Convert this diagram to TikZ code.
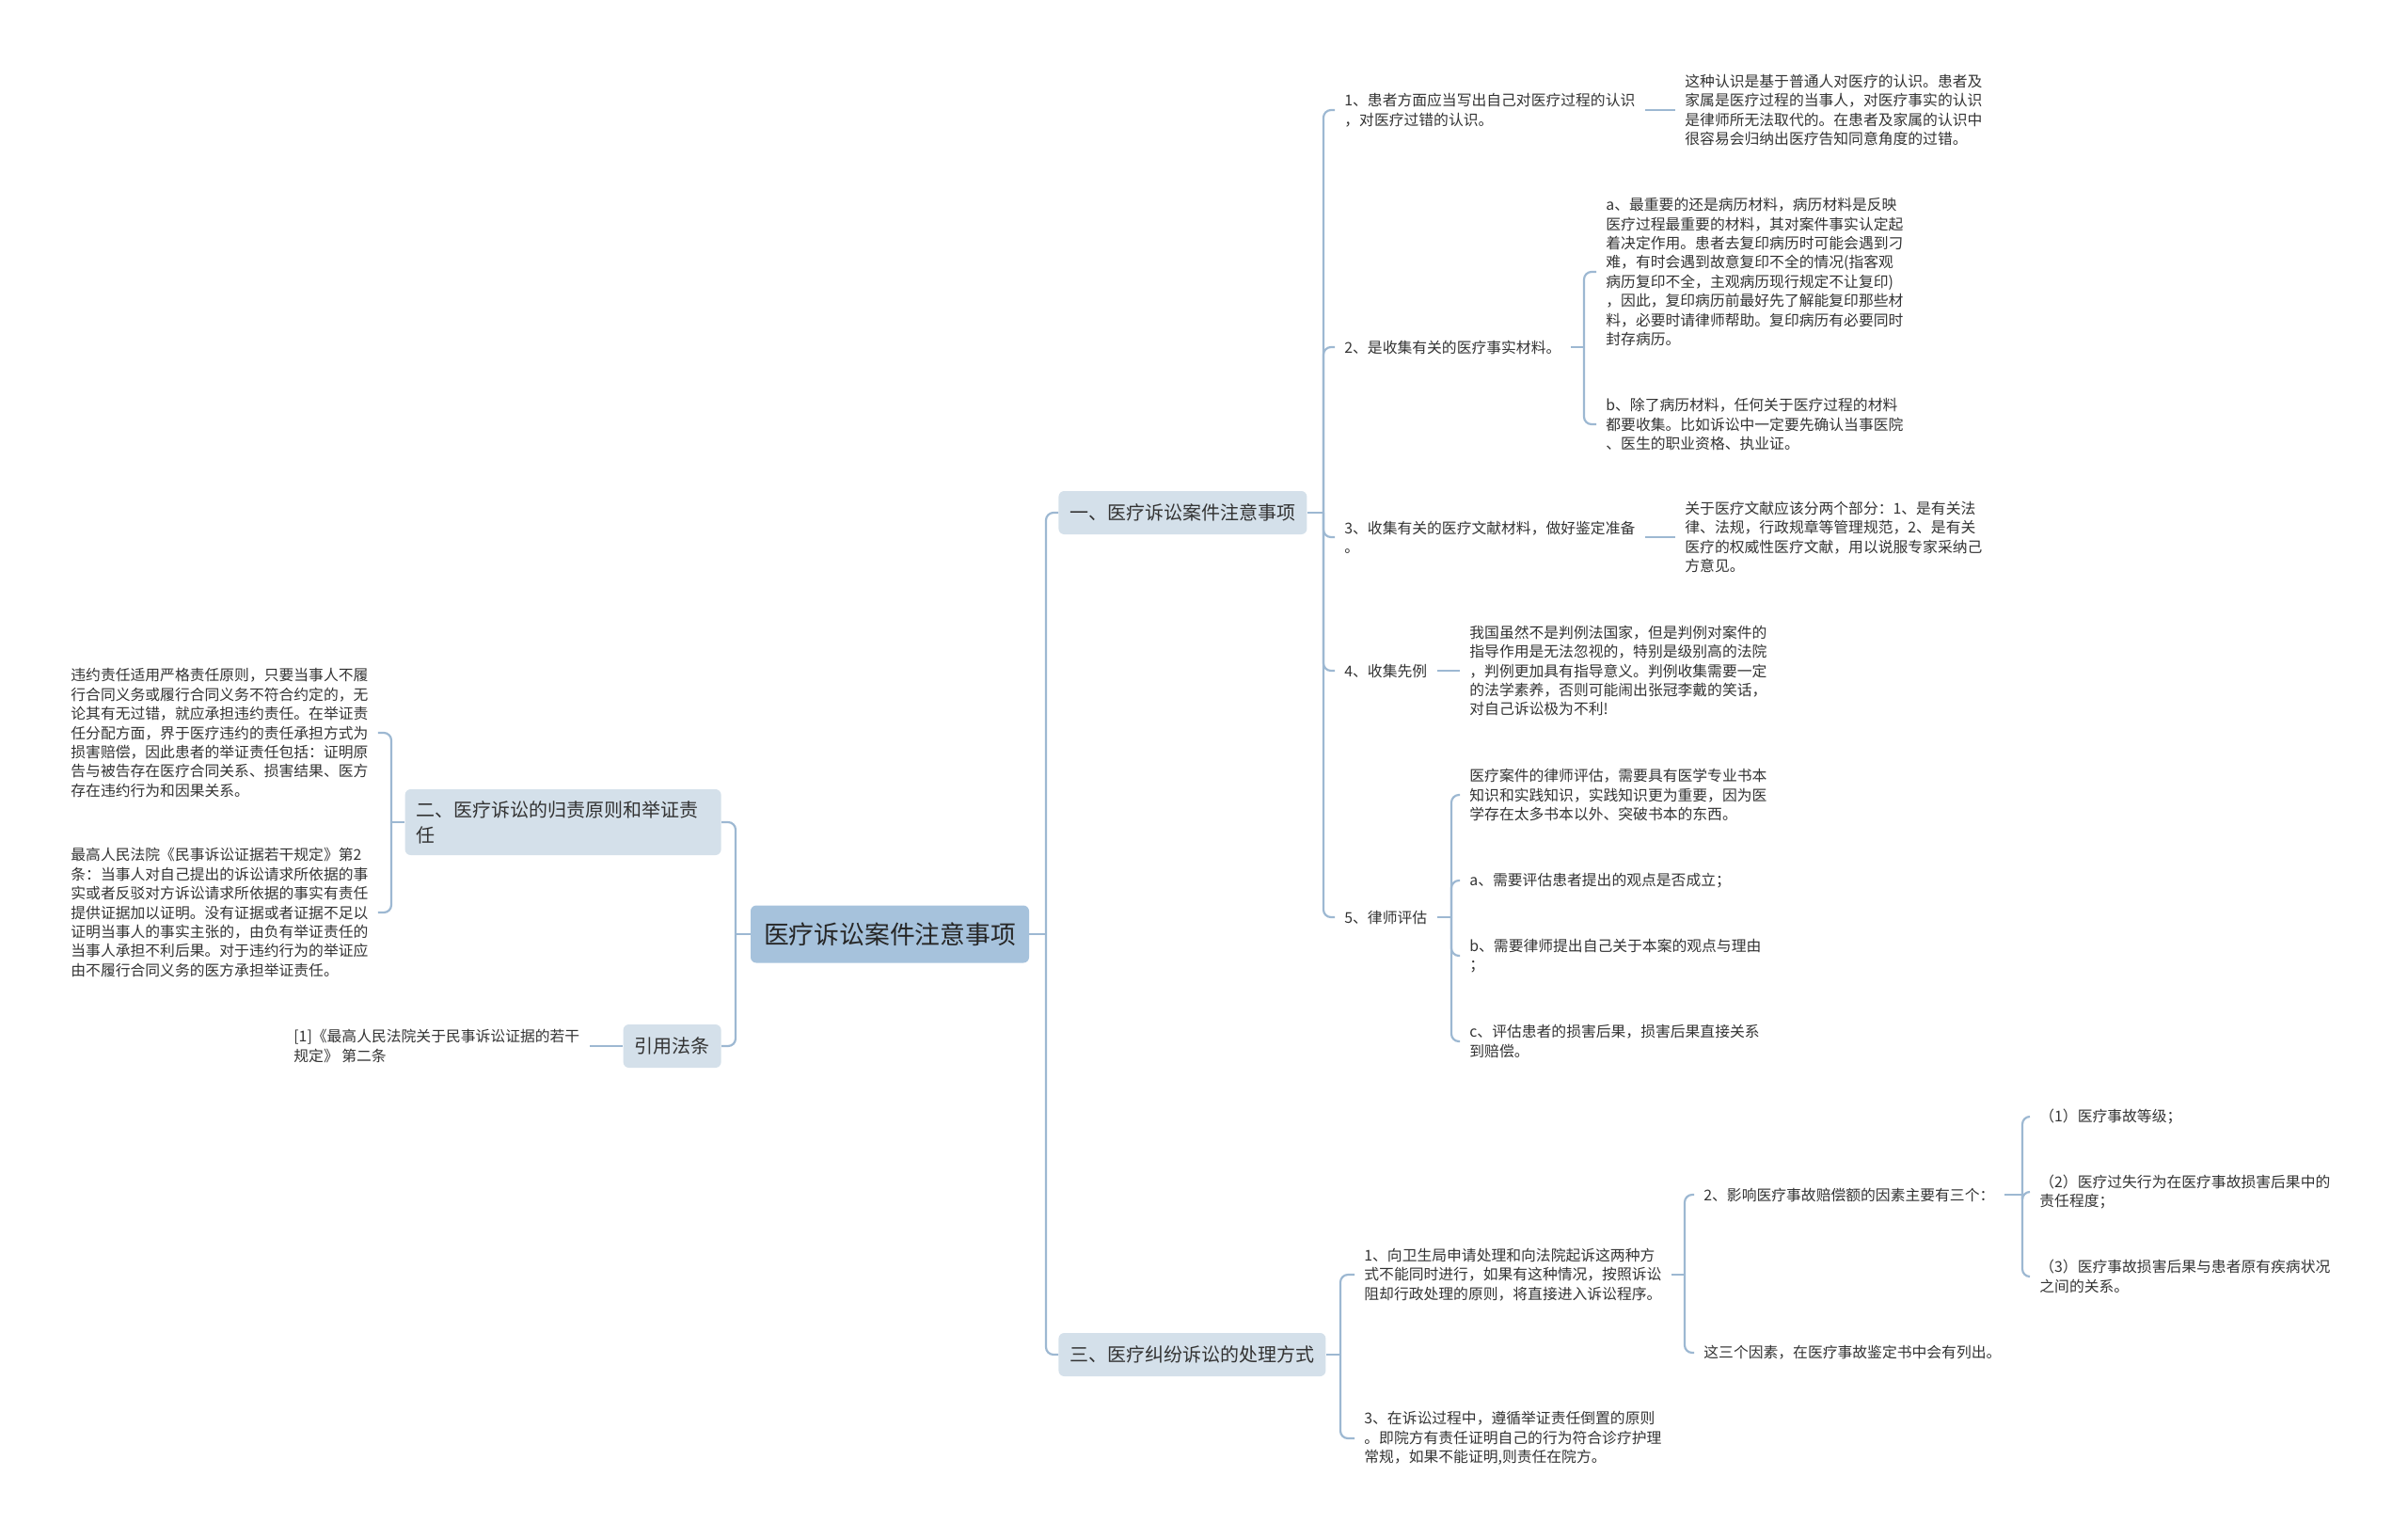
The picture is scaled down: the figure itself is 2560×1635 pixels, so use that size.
\documentclass[tikz,border=0pt]{standalone}
\usepackage{fontspec}
\setmainfont{Noto Sans CJK SC}
\usetikzlibrary{positioning}
\definecolor{rootblue}{HTML}{A6C2DC}
\definecolor{topicgrey}{HTML}{D4E0EA}
\definecolor{linkblue}{HTML}{9DB8D2}
\definecolor{ink}{HTML}{333333}

\begin{document}
\begin{tikzpicture}[
  x=0.5pt, y=-0.5pt,
  root/.style={fill=rootblue, rounded corners=3pt, inner xsep=7pt, minimum height=30.5pt, text=black!85, font=\fontsize{13.4pt}{16pt}\selectfont},
  topic/.style={fill=topicgrey, rounded corners=3pt, inner xsep=6pt, minimum height=23pt, text=ink, font=\fontsize{10pt}{13.5pt}\selectfont, align=left},
  leaf/.style={anchor=west, inner xsep=5pt, inner ysep=2pt, align=left, text=ink, font=\fontsize{7.9pt}{10.2pt}\selectfont},
  link/.style={draw=linkblue, line width=1.1pt, rounded corners=4pt}
]
\useasboundingbox (0,0) rectangle (2560,1635);

% centre and main topics
\node[root] (root) at (946,993) {医疗诉讼案件注意事项};
\node[topic, anchor=west] (note) at (1125,545) {一、医疗诉讼案件注意事项};
\node[topic, anchor=west] (handle) at (1125,1440) {三、医疗纠纷诉讼的处理方式};
\node[topic, anchor=east, text width=156pt, minimum height=35pt] (rule) at (767,874) {二、医疗诉讼的归责原则和举证责\\任};
\node[topic, anchor=east] (cite) at (767,1112) {引用法条};

% 一
\node[leaf] (n1) at (1419,117) {1、患者方面应当写出自己对医疗过程的认识\\，对医疗过错的认识。};
\node[leaf] (n1c) at (1781,117) {这种认识是基于普通人对医疗的认识。患者及\\家属是医疗过程的当事人，对医疗事实的认识\\是律师所无法取代的。在患者及家属的认识中\\很容易会归纳出医疗告知同意角度的过错。};
\node[leaf] (n2) at (1419,369) {2、是收集有关的医疗事实材料。};
\node[leaf] (n2a) at (1697,289) {a、最重要的还是病历材料，病历材料是反映\\医疗过程最重要的材料，其对案件事实认定起\\着决定作用。患者去复印病历时可能会遇到刁\\难，有时会遇到故意复印不全的情况(指客观\\病历复印不全，主观病历现行规定不让复印)\\，因此，复印病历前最好先了解能复印那些材\\料，必要时请律师帮助。复印病历有必要同时\\封存病历。};
\node[leaf] (n2b) at (1697,451) {b、除了病历材料，任何关于医疗过程的材料\\都要收集。比如诉讼中一定要先确认当事医院\\、医生的职业资格、执业证。};
\node[leaf] (n3) at (1419,571) {3、收集有关的医疗文献材料，做好鉴定准备\\。};
\node[leaf] (n3c) at (1781,571) {关于医疗文献应该分两个部分：1、是有关法\\律、法规，行政规章等管理规范，2、是有关\\医疗的权威性医疗文献，用以说服专家采纳己\\方意见。};
\node[leaf] (n4) at (1419,713) {4、收集先例};
\node[leaf] (n4c) at (1552,713) {我国虽然不是判例法国家，但是判例对案件的\\指导作用是无法忽视的，特别是级别高的法院\\，判例更加具有指导意义。判例收集需要一定\\的法学素养，否则可能闹出张冠李戴的笑话，\\对自己诉讼极为不利!};
\node[leaf] (n5) at (1419,975) {5、律师评估};
\node[leaf] (n5a) at (1552,845) {医疗案件的律师评估，需要具有医学专业书本\\知识和实践知识，实践知识更为重要，因为医\\学存在太多书本以外、突破书本的东西。};
\node[leaf] (n5b) at (1552,936) {a、需要评估患者提出的观点是否成立；};
\node[leaf] (n5c) at (1552,1016) {b、需要律师提出自己关于本案的观点与理由\\；};
\node[leaf] (n5d) at (1552,1107) {c、评估患者的损害后果，损害后果直接关系\\到赔偿。};

% 三
\node[leaf] (m1) at (1440,1355) {1、向卫生局申请处理和向法院起诉这两种方\\式不能同时进行，如果有这种情况，按照诉讼\\阻却行政处理的原则，将直接进入诉讼程序。};
\node[leaf] (m3) at (1440,1529) {3、在诉讼过程中，遵循举证责任倒置的原则\\。即院方有责任证明自己的行为符合诊疗护理\\常规，如果不能证明,则责任在院方。};
\node[leaf] (m1a) at (1801,1270) {2、影响医疗事故赔偿额的因素主要有三个：};
\node[leaf] (m1b) at (1801,1438) {这三个因素，在医疗事故鉴定书中会有列出。};
\node[leaf] (f1) at (2158,1187) {（1）医疗事故等级；};
\node[leaf] (f2) at (2158,1267) {（2）医疗过失行为在医疗事故损害后果中的\\责任程度；};
\node[leaf] (f3) at (2158,1357) {（3）医疗事故损害后果与患者原有疾病状况\\之间的关系。};

% 二 and 引用法条
\node[leaf] (r1) at (65,779) {违约责任适用严格责任原则，只要当事人不履\\行合同义务或履行合同义务不符合约定的，无\\论其有无过错，就应承担违约责任。在举证责\\任分配方面，界于医疗违约的责任承担方式为\\损害赔偿，因此患者的举证责任包括：证明原\\告与被告存在医疗合同关系、损害结果、医方\\存在违约行为和因果关系。};
\node[leaf] (r2) at (65,970) {最高人民法院《民事诉讼证据若干规定》第2\\条：当事人对自己提出的诉讼请求所依据的事\\实或者反驳对方诉讼请求所依据的事实有责任\\提供证据加以证明。没有证据或者证据不足以\\证明当事人的事实主张的，由负有举证责任的\\当事人承担不利后果。对于违约行为的举证应\\由不履行合同义务的医方承担举证责任。};
\node[leaf] (c1) at (302,1112) {[1]《最高人民法院关于民事诉讼证据的若干\\规定》 第二条};

% branch points
\coordinate (rootR) at (1112,993);
\coordinate (rootL) at (782,993);
\coordinate (noteS) at (1407,545);
\coordinate (n2S) at (1684,369);
\coordinate (n5S) at (1543,975);
\coordinate (handleS) at (1425,1440);
\coordinate (m1S) at (1791,1355);
\coordinate (m1aS) at (2150,1270);
\coordinate (ruleS) at (416,874);

\draw[link] (root.east) -- (rootR);
\draw[link] (rootR) |- (note.west);
\draw[link] (rootR) |- (handle.west);
\draw[link] (root.west) -- (rootL);
\draw[link] (rootL) |- (rule.east);
\draw[link] (rootL) |- (cite.east);

\draw[link] (note.east) -- (noteS);
\foreach \k in {n1,n2,n3,n4,n5}
  \draw[link] (noteS) |- (\k.west);
\draw[link] (n1.east) -- (n1c.west);
\draw[link] (n2.east) -- (n2S);
\draw[link] (n2S) |- (n2a.west);
\draw[link] (n2S) |- (n2b.west);
\draw[link] (n3.east) -- (n3c.west);
\draw[link] (n4.east) -- (n4c.west);
\draw[link] (n5.east) -- (n5S);
\foreach \k in {n5a,n5b,n5c,n5d}
  \draw[link] (n5S) |- (\k.west);

\draw[link] (handle.east) -- (handleS);
\draw[link] (handleS) |- (m1.west);
\draw[link] (handleS) |- (m3.west);
\draw[link] (m1.east) -- (m1S);
\draw[link] (m1S) |- (m1a.west);
\draw[link] (m1S) |- (m1b.west);
\draw[link] (m1a.east) -- (m1aS);
\foreach \k in {f1,f2,f3}
  \draw[link] (m1aS) |- (\k.west);

\draw[link] (rule.west) -- (ruleS);
\draw[link] (ruleS) |- (r1.east);
\draw[link] (ruleS) |- (r2.east);
\draw[link] (cite.west) -- (c1.east);
\end{tikzpicture}
\end{document}
